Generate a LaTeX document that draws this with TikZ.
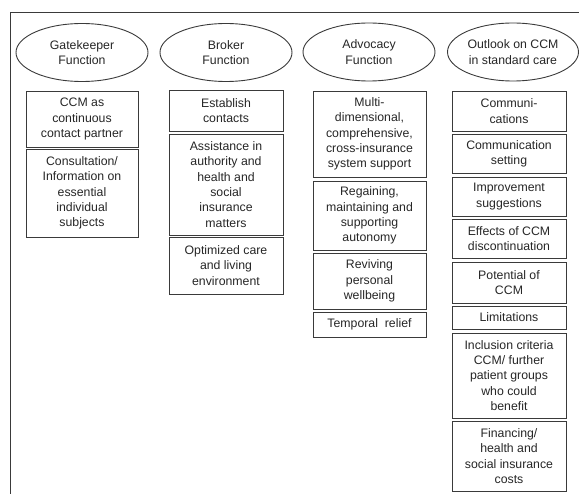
\documentclass[tikz,border=0pt]{standalone}
\usepackage{fontspec}
\setmainfont{Liberation Sans}
\usetikzlibrary{shapes.geometric}
\definecolor{linec}{HTML}{3A3A3A}
\definecolor{textc}{HTML}{262626}
\tikzset{
  fn/.style={draw=linec, line width=0.9pt, ellipse, minimum width=132pt, minimum height=58pt, inner sep=0pt,
    align=center, text=textc, font=\fontsize{12.3}{15.3}\selectfont},
  item/.style={draw=linec, line width=0.9pt, rectangle, inner sep=0pt, align=center, text=textc,
    font=\fontsize{12.3}{15.3}\selectfont},
  frameline/.style={draw=linec, line width=0.9pt}
}
\begin{document}
\begin{tikzpicture}[x=1pt,y=-1pt]
\useasboundingbox (0,0) rectangle (579,494);
\coordinate (fa) at (579,12);
\coordinate (fb) at (10,12);
\coordinate (fc) at (10,494);
\draw[frameline] (fa) -- (fb) -- (fc);

% headers
\node[fn] (gk) at (82,52.5) {Gatekeeper\\Function};
\node[fn] (br) at (226,52.5) {Broker\\Function};
\node[fn] (ad) at (369,52) {Advocacy\\Function};
\node[fn, minimum width=131pt] (ol) at (513,52) {Outlook on CCM\\in standard care};

% Gatekeeper column
\node[item, minimum width=112pt, minimum height=56pt] (g1) at (82,119) {CCM as\\continuous\\contact partner};
\node[item, minimum width=112pt, minimum height=88pt] (g2) at (82,193) {Consultation/\\Information on\\essential\\individual\\subjects};

% Broker column
\node[item, minimum width=114pt, minimum height=41pt] (b1) at (226,110.5) {Establish\\contacts};
\node[item, minimum width=114pt, minimum height=101pt] (b2) at (226,184.5) {Assistance in\\authority and\\health and\\social\\insurance\\matters};
\node[item, minimum width=114pt, minimum height=57pt] (b3) at (226,265.5) {Optimized care\\and living\\environment};

% Advocacy column
\node[item, minimum width=113pt, minimum height=86pt] (a1) at (369.5,134) {Multi-\\dimensional,\\comprehensive,\\cross-insurance\\system support};
\node[item, minimum width=113pt, minimum height=69pt] (a2) at (369.5,215.5) {Regaining,\\maintaining and\\supporting\\autonomy};
\node[item, minimum width=113pt, minimum height=56pt] (a3) at (369.5,281) {Reviving\\personal\\wellbeing};
\node[item, minimum width=113pt, minimum height=25pt] (a4) at (369.5,324.5) {Temporal\ \ relief};

% Outlook column
\node[item, minimum width=114pt, minimum height=40pt] (o1) at (509,111) {Communi-\\cations};
\node[item, minimum width=114pt, minimum height=39pt] (o2) at (509,153.5) {Communication\\setting};
\node[item, minimum width=114pt, minimum height=39pt] (o3) at (509,196.5) {Improvement\\suggestions};
\node[item, minimum width=114pt, minimum height=39pt] (o4) at (509,238.5) {Effects of CCM\\discontinuation};
\node[item, minimum width=114pt, minimum height=41pt] (o5) at (509,282.5) {Potential of\\CCM};
\node[item, minimum width=114pt, minimum height=23pt] (o6) at (509,317.5) {Limitations};
\node[item, minimum width=114pt, minimum height=85pt] (o7) at (509,375.5) {Inclusion criteria\\CCM/ further\\patient groups\\who could\\benefit};
\node[item, minimum width=114pt, minimum height=70pt] (o8) at (509,456) {Financing/\\health and\\social insurance\\costs};
\end{tikzpicture}
\end{document}
